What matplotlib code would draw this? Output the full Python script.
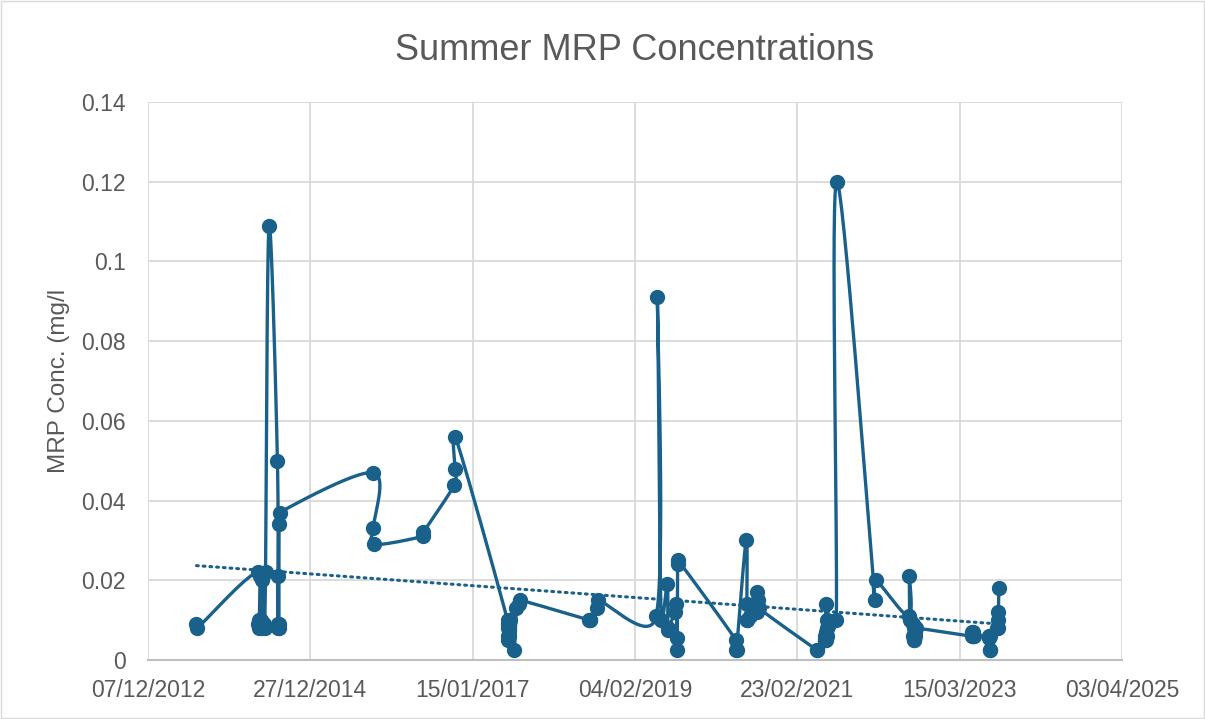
import matplotlib
matplotlib.use("Agg")
import matplotlib.pyplot as plt
import matplotlib.dates as mdates
import numpy as np
import pandas as pd

# sample dates and MRP values (mg/l), in the order the series was plotted
dates = [
    "2013-07-19", "2013-07-22",
    "2014-04-29", "2014-05-01", "2014-05-03", "2014-05-05", "2014-05-10", "2014-05-12",
    "2014-05-14", "2014-05-16", "2014-05-20", "2014-05-28", "2014-05-30", "2014-06-03",
    "2014-06-19", "2014-07-28", "2014-07-29", "2014-07-30", "2014-08-01", "2014-08-02",
    "2014-08-03", "2014-08-05", "2014-08-07",
    "2015-10-12", "2015-10-14", "2015-10-16", "2016-05-30", "2016-06-01",
    "2016-10-23", "2016-10-25", "2016-10-27",
    "2017-06-25", "2017-06-26", "2017-06-27", "2017-06-28", "2017-06-29", "2017-07-01",
    "2017-07-03", "2017-07-05", "2017-07-25",
    "2017-08-05", "2017-08-15", "2017-08-22",
    "2018-07-08", "2018-07-10", "2018-07-12", "2018-08-14", "2018-08-17",
    "2019-05-13", "2019-05-18", "2019-06-05", "2019-07-03", "2019-07-05", "2019-07-07", "2019-08-10",
    "2019-08-14", "2019-08-16", "2019-08-18", "2019-08-20", "2019-08-22",
    "2020-05-15", "2020-05-17", "2020-05-18", "2020-07-02", "2020-07-04", "2020-07-05", "2020-07-06",
    "2020-07-20", "2020-08-20", "2020-08-22", "2020-08-24", "2020-08-30",
    "2021-05-24", "2021-05-26", "2021-07-01", "2021-07-02", "2021-07-03", "2021-07-04", "2021-07-05",
    "2021-07-06", "2021-07-08", "2021-07-10", "2021-07-12", "2021-08-22", "2021-08-24",
    "2022-02-18", "2022-02-20",
    "2022-07-22", "2022-07-25", "2022-07-28", "2022-08-10", "2022-08-12", "2022-08-14", "2022-08-16",
    "2022-08-18", "2022-08-20", "2022-08-22", "2022-08-24",
    "2023-05-12", "2023-05-13", "2023-05-14", "2023-05-15", "2023-05-16", "2023-05-18",
    "2023-07-29", "2023-07-30", "2023-08-01", "2023-08-02", "2023-08-03",
    "2023-09-05", "2023-09-06", "2023-09-08", "2023-09-10", "2023-09-12",
]
mrp = [
    0.009, 0.008,
    0.022, 0.009, 0.008, 0.010, 0.021, 0.010,
    0.008, 0.009, 0.020, 0.009, 0.008, 0.022,
    0.109, 0.050, 0.009, 0.008, 0.021, 0.009,
    0.008, 0.034, 0.037,
    0.047, 0.033, 0.029, 0.031, 0.032,
    0.044, 0.048, 0.056,
    0.010, 0.006, 0.005, 0.008, 0.009, 0.0075,
    0.006, 0.010, 0.0025,
    0.013, 0.014, 0.015,
    0.010, 0.010, 0.010, 0.013, 0.015,
    0.011, 0.091, 0.010, 0.019, 0.0075, 0.008, 0.012,
    0.014, 0.0055, 0.0025, 0.024, 0.025,
    0.005, 0.0025, 0.0025, 0.030, 0.010, 0.010, 0.014,
    0.011, 0.017, 0.012, 0.015, 0.013,
    0.0025, 0.0025, 0.005, 0.005, 0.006, 0.007, 0.005,
    0.014, 0.008, 0.010, 0.006, 0.010, 0.120,
    0.015, 0.020,
    0.011, 0.021, 0.010, 0.009, 0.006, 0.005, 0.008,
    0.005, 0.006, 0.007, 0.008,
    0.006, 0.007, 0.006, 0.007, 0.006, 0.006,
    0.006, 0.0055, 0.006, 0.0025, 0.0025,
    0.008, 0.008, 0.010, 0.012, 0.018,
]

x_ticks = ["2012-12-07", "2014-12-27", "2017-01-15", "2019-02-04",
           "2021-02-23", "2023-03-15", "2025-04-03"]

colour = "#19618a"
grey_txt = "#595959"
plt.rcParams["font.family"] = ["Liberation Sans", "DejaVu Sans"]

x = mdates.date2num(pd.to_datetime(dates))
y = np.array(mrp)
xt = mdates.date2num(pd.to_datetime(x_ticks))

fig = plt.figure(figsize=(12.05, 7.19), dpi=100)
ax = fig.add_axes([148 / 1205, 59 / 719, 974 / 1205, 558 / 719])
ax.set_xlim(xt[0], xt[-1])
ax.set_ylim(0, 0.14)

# Excel-style smoothed line: Bezier through the points, in pixel units,
# handles capped so short segments don't overshoot
sx = 974 / (xt[-1] - xt[0])
sy = 558 / 0.14
P = np.column_stack([x * sx, y * sy])
Pp = np.vstack([P[0], P, P[-1]])
t = np.linspace(0, 1, 30)[:, None]


def cap(v, lim):
    n = np.hypot(*v)
    return v if n <= lim or n == 0 else v * lim / n


seg = []
for i in range(len(P) - 1):
    p0, p1, p2, p3 = Pp[i], Pp[i + 1], Pp[i + 2], Pp[i + 3]
    L = np.hypot(*(p2 - p1)) * 0.5
    c1 = p1 + cap((p2 - p0) / 6, L)
    c2 = p2 - cap((p3 - p1) / 6, L)
    b = ((1 - t) ** 3) * p1 + 3 * ((1 - t) ** 2) * t * c1 + 3 * (1 - t) * t ** 2 * c2 + t ** 3 * p2
    seg.append(b)
curve = np.vstack(seg)
ax.plot(curve[:, 0] / sx, curve[:, 1] / sy, color=colour, lw=2.4, zorder=3,
        solid_capstyle="round", solid_joinstyle="round")
ax.plot(x, y, "o", color=colour, ms=10, zorder=4)

# linear trend
k, c = np.polyfit(x, y, 1)
xx = np.array([x.min(), x.max()])
ax.plot(xx, k * xx + c, color=colour, lw=2.2, ls=(0, (0.6, 1.6)),
        dash_capstyle="round", zorder=2)

ax.set_xticks(xt)
ax.set_xticklabels([pd.Timestamp(d).strftime("%d/%m/%Y") for d in x_ticks])
ax.set_yticks(np.arange(0, 0.141, 0.02))
ax.set_yticklabels(["0", "0.02", "0.04", "0.06", "0.08", "0.1", "0.12", "0.14"])
ax.grid(True, color="#d9d9d9", lw=1.3)
ax.set_axisbelow(True)
for s in ["left", "right", "top"]:
    ax.spines[s].set_visible(False)
ax.spines["bottom"].set_color("#bfbfbf")
ax.spines["bottom"].set_linewidth(1.5)
ax.tick_params(length=0, labelsize=16.5, colors=grey_txt)
ax.tick_params(axis="x", pad=14)
ax.tick_params(axis="y", pad=16)

ax.set_title("Summer MRP Concentrations", fontsize=26, color=grey_txt, pad=30)
ax.set_ylabel("MRP Conc. (mg/l", fontsize=17.5, color=grey_txt, labelpad=8)

fig.patches.append(plt.Rectangle((0.001, 0.001), 0.998, 0.997, transform=fig.transFigure,
                                 fill=False, ec="#d9d9d9", lw=1))

fig.savefig("out.png", dpi=100)
